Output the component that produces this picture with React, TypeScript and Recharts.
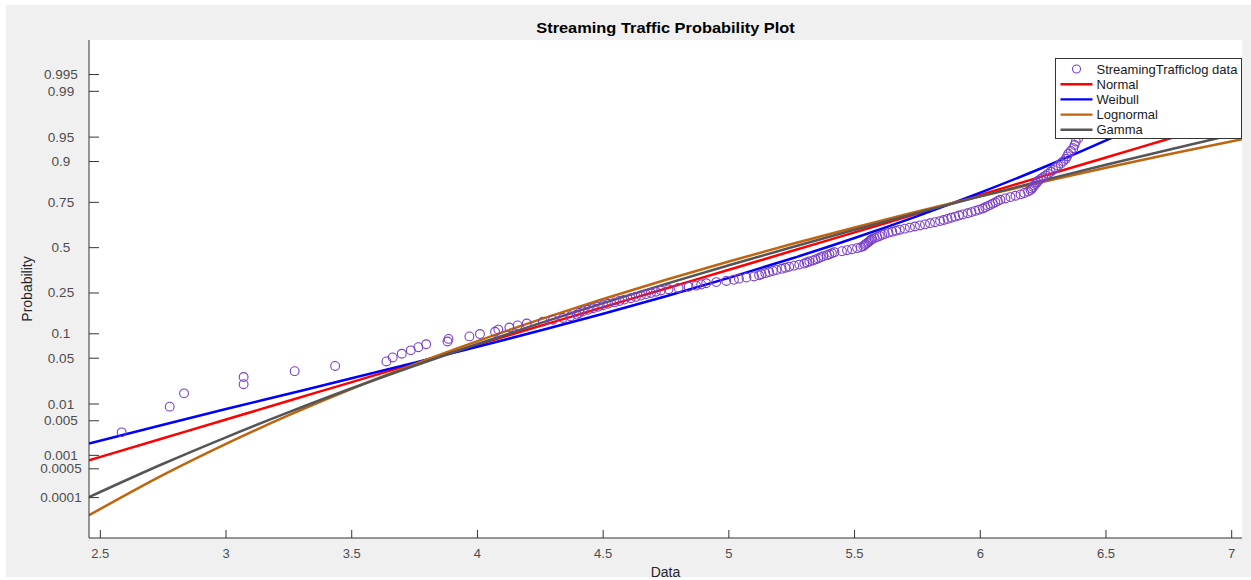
import React from 'react';
import { ComposedChart, Line, Scatter, XAxis, YAxis } from 'recharts';

const CURVE_X = [2.455, 2.75, 3.0, 3.25, 3.5, 3.75, 4.0, 4.25, 4.5, 4.75, 5.0, 5.25, 5.5, 5.75, 6.0, 6.25, 6.5, 6.75, 7.041];

const NORMAL_P = [0.00078, 0.00229, 0.00528, 0.01136, 0.02275, 0.0426, 0.0745, 0.1222, 0.1878, 0.2719, 0.3711, 0.4801, 0.5902, 0.6939, 0.7838, 0.8563, 0.9102, 0.9475, 0.9741];
const WEIBULL_P = [0.00179, 0.00422, 0.00816, 0.0149, 0.026, 0.0436, 0.0701, 0.1087, 0.1628, 0.235, 0.3266, 0.4358, 0.5572, 0.6808, 0.7936, 0.8836, 0.9447, 0.9788, 0.99507];
const LOGNORMAL_P = [0.0000342, 0.000362, 0.00176, 0.00635, 0.0179, 0.0416, 0.0823, 0.1428, 0.2224, 0.3166, 0.4188, 0.5216, 0.6184, 0.7045, 0.7775, 0.8365, 0.8827, 0.9176, 0.9466];
const GAMMA_P = [0.000103, 0.000652, 0.00239, 0.00718, 0.0182, 0.0395, 0.0759, 0.1307, 0.2047, 0.2953, 0.3967, 0.5026, 0.6049, 0.6978, 0.7772, 0.8416, 0.8912, 0.9275, 0.9566];

// StreamingTrafficlog data (sorted values and their plotting probabilities)
const DATA_X = [
  2.585, 2.776, 2.833, 3.07, 3.07, 3.273, 3.434, 3.638, 3.663, 3.699,
  3.735, 3.765, 3.796, 3.881, 3.885, 3.968, 4.01, 4.07, 4.083, 4.127,
  4.16, 4.196, 4.26, 4.3, 4.34, 4.37, 4.395, 4.405, 4.42, 4.44,
  4.46, 4.48, 4.5, 4.52, 4.545, 4.565, 4.585, 4.61, 4.63, 4.65,
  4.67, 4.69, 4.71, 4.73, 4.76, 4.8, 4.84, 4.87, 4.89, 4.91,
  4.95, 4.99, 5.02, 5.04, 5.07, 5.1, 5.12, 5.13, 5.145, 5.16,
  5.175, 5.19, 5.21, 5.225, 5.24, 5.26, 5.28, 5.3, 5.31, 5.32,
  5.335, 5.345, 5.355, 5.365, 5.375, 5.39, 5.4, 5.41, 5.42, 5.45,
  5.47, 5.49, 5.51, 5.525, 5.535, 5.54, 5.545, 5.55, 5.555, 5.56,
  5.565, 5.57, 5.58, 5.59, 5.6, 5.61, 5.62, 5.635, 5.65, 5.665,
  5.68, 5.7, 5.72, 5.74, 5.76, 5.78, 5.8, 5.82, 5.84, 5.855,
  5.87, 5.885, 5.9, 5.915, 5.93, 5.95, 5.965, 5.98, 5.995, 6.01,
  6.02, 6.03, 6.04, 6.05, 6.06, 6.07, 6.08, 6.1, 6.12, 6.14,
  6.16, 6.175, 6.19, 6.2, 6.205, 6.21, 6.215, 6.22, 6.225, 6.23,
  6.24, 6.25, 6.26, 6.27, 6.28, 6.29, 6.3, 6.31, 6.32, 6.33,
  6.34, 6.345, 6.35, 6.36, 6.37, 6.375, 6.38, 6.39, 6.4, 6.41,
];
const DATA_P = [
  0.003, 0.009, 0.0151, 0.0211, 0.0271, 0.0331, 0.0392, 0.0452, 0.0512, 0.0572,
  0.0633, 0.0693, 0.0753, 0.0813, 0.0873, 0.0934, 0.0994, 0.1054, 0.1114, 0.1175,
  0.1235, 0.1295, 0.1355, 0.1416, 0.1476, 0.1536, 0.1596, 0.1657, 0.1717, 0.1777,
  0.1837, 0.1898, 0.1958, 0.2018, 0.2078, 0.2139, 0.2199, 0.2259, 0.2319, 0.238,
  0.244, 0.25, 0.256, 0.262, 0.2681, 0.2741, 0.2801, 0.2861, 0.2922, 0.2982,
  0.3042, 0.3102, 0.3163, 0.3223, 0.3283, 0.3343, 0.3404, 0.3464, 0.3524, 0.3584,
  0.3645, 0.3705, 0.3765, 0.3825, 0.3886, 0.3946, 0.4006, 0.4066, 0.4127, 0.4187,
  0.4247, 0.4307, 0.4367, 0.4428, 0.4488, 0.4548, 0.4608, 0.4669, 0.4729, 0.4789,
  0.4849, 0.491, 0.497, 0.503, 0.509, 0.5151, 0.5211, 0.5271, 0.5331, 0.5392,
  0.5452, 0.5512, 0.5572, 0.5633, 0.5693, 0.5753, 0.5813, 0.5873, 0.5934, 0.5994,
  0.6054, 0.6114, 0.6175, 0.6235, 0.6295, 0.6355, 0.6416, 0.6476, 0.6536, 0.6596,
  0.6657, 0.6717, 0.6777, 0.6837, 0.6898, 0.6958, 0.7018, 0.7078, 0.7139, 0.7199,
  0.7259, 0.7319, 0.738, 0.744, 0.75, 0.756, 0.762, 0.7681, 0.7741, 0.7801,
  0.7861, 0.7922, 0.7982, 0.8042, 0.8102, 0.8163, 0.8223, 0.8283, 0.8343, 0.8404,
  0.8464, 0.8524, 0.8584, 0.8645, 0.8705, 0.8765, 0.8825, 0.8886, 0.8946, 0.9006,
  0.9066, 0.9127, 0.9187, 0.9247, 0.9307, 0.9367, 0.9428, 0.9488, 0.9548, 0.9608,
];

const X_TICKS = [2.5, 3, 3.5, 4, 4.5, 5, 5.5, 6, 6.5, 7];
const Y_TICK_P = [0.0001, 0.0005, 0.001, 0.005, 0.01, 0.05, 0.1, 0.25, 0.5, 0.75, 0.9, 0.95, 0.99, 0.995];
const Y_TICK_LABELS = ['0.0001', '0.0005', '0.001', '0.005', '0.01', '0.05', '0.1', '0.25', '0.5', '0.75', '0.9', '0.95', '0.99', '0.995'];

const FONT = '"Liberation Sans", Arial, Helvetica, sans-serif';
const AXIS_COLOR = '#333333';
const TICK_TEXT = '#4d4d4d';
const DATA_COLOR = '#7a3ec8';

const LEGEND_ITEMS = [
  { name: 'StreamingTrafficlog data', color: DATA_COLOR, marker: true },
  { name: 'Normal', color: '#ff0000' },
  { name: 'Weibull', color: '#0000ff' },
  { name: 'Lognormal', color: '#bf650f' },
  { name: 'Gamma', color: '#555555' },
];

// inverse standard normal cdf (Acklam), used for the probability axis
function probit(p: number): number {
  const a = [-39.69683028665376, 220.9460984245205, -275.9285104469687, 138.357751867269, -30.66479806614716, 2.506628277459239];
  const b = [-54.47609879822406, 161.5858368580409, -155.6989798598866, 66.80131188771972, -13.28068155288572];
  const c = [-0.007784894002430293, -0.3223964580411365, -2.400758277161838, -2.549732539343734, 4.374664141464968, 2.938163982698783];
  const d = [0.007784695709041462, 0.3224671290700398, 2.445134137142996, 3.754408661907416];
  const plow = 0.02425;
  if (p < plow) {
    const q = Math.sqrt(-2 * Math.log(p));
    return (((((c[0] * q + c[1]) * q + c[2]) * q + c[3]) * q + c[4]) * q + c[5]) / ((((d[0] * q + d[1]) * q + d[2]) * q + d[3]) * q + 1);
  }
  if (p > 1 - plow) {
    const q = Math.sqrt(-2 * Math.log(1 - p));
    return -(((((c[0] * q + c[1]) * q + c[2]) * q + c[3]) * q + c[4]) * q + c[5]) / ((((d[0] * q + d[1]) * q + d[2]) * q + d[3]) * q + 1);
  }
  const q = p - 0.5;
  const r = q * q;
  return ((((((a[0] * r + a[1]) * r + a[2]) * r + a[3]) * r + a[4]) * r + a[5]) * q) / (((((b[0] * r + b[1]) * r + b[2]) * r + b[3]) * r + b[4]) * r + 1);
}

const toPoints = (xs: number[], ps: number[]) => xs.map((x, i) => ({ x, z: probit(ps[i]) }));

const dataPoints = toPoints(DATA_X, DATA_P);
const normalLine = toPoints(CURVE_X, NORMAL_P);
const weibullLine = toPoints(CURVE_X, WEIBULL_P);
const lognormalLine = toPoints(CURVE_X, LOGNORMAL_P);
const gammaLine = toPoints(CURVE_X, GAMMA_P);
const yTicks = Y_TICK_P.map(probit);

const X_DOMAIN = [2.455, 7.041];
const Y_DOMAIN = [-4.32, 3.09];

function yLabel(z: number) {
  let best = 0;
  yTicks.forEach((t, i) => {
    if (Math.abs(t - z) < Math.abs(yTicks[best] - z)) best = i;
  });
  return Y_TICK_LABELS[best];
}

const tickText = { fontFamily: FONT, fontSize: 13, fill: TICK_TEXT };

function LeftTick({ x, y, payload }: any) {
  return (
    <g>
      <line x1={x} y1={y} x2={x + 10} y2={y} stroke={AXIS_COLOR} />
      <text x={x - 28} y={y} textAnchor="middle" dominantBaseline="central" {...tickText} fontSize={13.5}>
        {yLabel(payload.value)}
      </text>
    </g>
  );
}

function RightTick({ x, y }: any) {
  return <line x1={x} y1={y} x2={x - 10} y2={y} stroke={AXIS_COLOR} />;
}

function BottomTick({ x, y, payload }: any) {
  return (
    <g>
      <line x1={x} y1={y} x2={x} y2={y - 8} stroke={AXIS_COLOR} />
      <text x={x} y={y + 15} textAnchor="middle" dominantBaseline="central" {...tickText}>
        {payload.value}
      </text>
    </g>
  );
}

function TopTick({ x, y }: any) {
  return <line x1={x} y1={y} x2={x} y2={y + 8} stroke={AXIS_COLOR} />;
}

function Circle(props: any) {
  return <circle cx={props.cx} cy={props.cy} r={4.4} fill="none" stroke={DATA_COLOR} strokeWidth={1.1} />;
}

function LegendBox() {
  return (
    <svg width={188} height={82} style={{ position: 'absolute', left: 1055, top: 58 }}>
      <rect x={0.5} y={0.5} width={186} height={80} fill="#ffffff" stroke={AXIS_COLOR} />
      {LEGEND_ITEMS.map((item, i) => {
        const cy = 11 + i * 15.2;
        return (
          <g key={item.name}>
            {item.marker ? (
              <circle cx={21.5} cy={cy} r={4} fill="none" stroke={item.color} strokeWidth={1.1} />
            ) : (
              <line x1={5.5} y1={cy} x2={37.5} y2={cy} stroke={item.color} strokeWidth={2.4} />
            )}
            <text x={41.5} y={cy} dominantBaseline="central" fontFamily={FONT} fontSize={13} fill="#1a1a1a">
              {item.name}
            </text>
          </g>
        );
      })}
    </svg>
  );
}

export default function App() {
  return (
    <div style={{ position: 'absolute', left: 0, top: 0, width: 1251, height: 580, background: '#ffffff', fontFamily: FONT }}>
      <div style={{ position: 'absolute', left: 6, top: 5, width: 1245, height: 572, background: '#f0f0f0' }} />
      <div style={{ position: 'absolute', left: 89, top: 40, width: 1153, height: 498, background: '#ffffff' }} />
      <div
        style={{
          position: 'absolute', left: 89, width: 1153, top: 19, textAlign: 'center', fontSize: 14, fontWeight: 'bold',
          color: '#000', lineHeight: '18px', transform: 'scaleX(1.17)', transformOrigin: '50% 50%',
        }}
      >
        Streaming Traffic Probability Plot
      </div>
      <div style={{ position: 'absolute', left: 89, width: 1153, top: 563, textAlign: 'center', fontSize: 14, color: '#262626', lineHeight: '18px' }}>
        Data
      </div>
      <div
        style={{
          position: 'absolute', left: 27, top: 289, fontSize: 14, color: '#262626', lineHeight: '18px',
          transform: 'translate(-50%, -50%) rotate(-90deg)', whiteSpace: 'nowrap',
        }}
      >
        Probability
      </div>
      <div style={{ position: 'absolute', left: 0, top: 0 }}>
        <ComposedChart width={1251} height={580} margin={{ top: 40, right: 9, bottom: 12, left: 0 }}>
          <XAxis
            xAxisId="bottom" dataKey="x" type="number" domain={X_DOMAIN} allowDataOverflow ticks={X_TICKS}
            interval={0} height={30} tickSize={0} tickMargin={0} tickLine={false}
            axisLine={{ stroke: AXIS_COLOR }} tick={<BottomTick />}
          />
          <XAxis
            xAxisId="top" orientation="top" dataKey="x" type="number" domain={X_DOMAIN} allowDataOverflow ticks={X_TICKS}
            interval={0} height={0} tickSize={0} tickMargin={0} tickLine={false}
            axisLine={{ stroke: AXIS_COLOR }} tick={<TopTick />}
          />
          <YAxis
            yAxisId="left" dataKey="z" type="number" domain={Y_DOMAIN} allowDataOverflow ticks={yTicks}
            interval={0} width={89} tickSize={0} tickMargin={0} tickLine={false}
            axisLine={{ stroke: AXIS_COLOR }} tick={<LeftTick />}
          />
          <YAxis
            yAxisId="right" orientation="right" dataKey="z" type="number" domain={Y_DOMAIN} allowDataOverflow ticks={yTicks}
            interval={0} width={0} tickSize={0} tickMargin={0} tickLine={false}
            axisLine={{ stroke: AXIS_COLOR }} tick={<RightTick />}
          />
          <Scatter xAxisId="bottom" yAxisId="left" data={dataPoints} shape={<Circle />} isAnimationActive={false} />
          <Line xAxisId="bottom" yAxisId="left" data={normalLine} dataKey="z" type="monotone" stroke="#ff0000" strokeWidth={2.5} dot={false} isAnimationActive={false} />
          <Line xAxisId="bottom" yAxisId="left" data={weibullLine} dataKey="z" type="monotone" stroke="#0000ff" strokeWidth={2.5} dot={false} isAnimationActive={false} />
          <Line xAxisId="bottom" yAxisId="left" data={lognormalLine} dataKey="z" type="monotone" stroke="#bf650f" strokeWidth={2.5} dot={false} isAnimationActive={false} />
          <Line xAxisId="bottom" yAxisId="left" data={gammaLine} dataKey="z" type="monotone" stroke="#555555" strokeWidth={2.5} dot={false} isAnimationActive={false} />
        </ComposedChart>
      </div>
      <LegendBox />
    </div>
  );
}
